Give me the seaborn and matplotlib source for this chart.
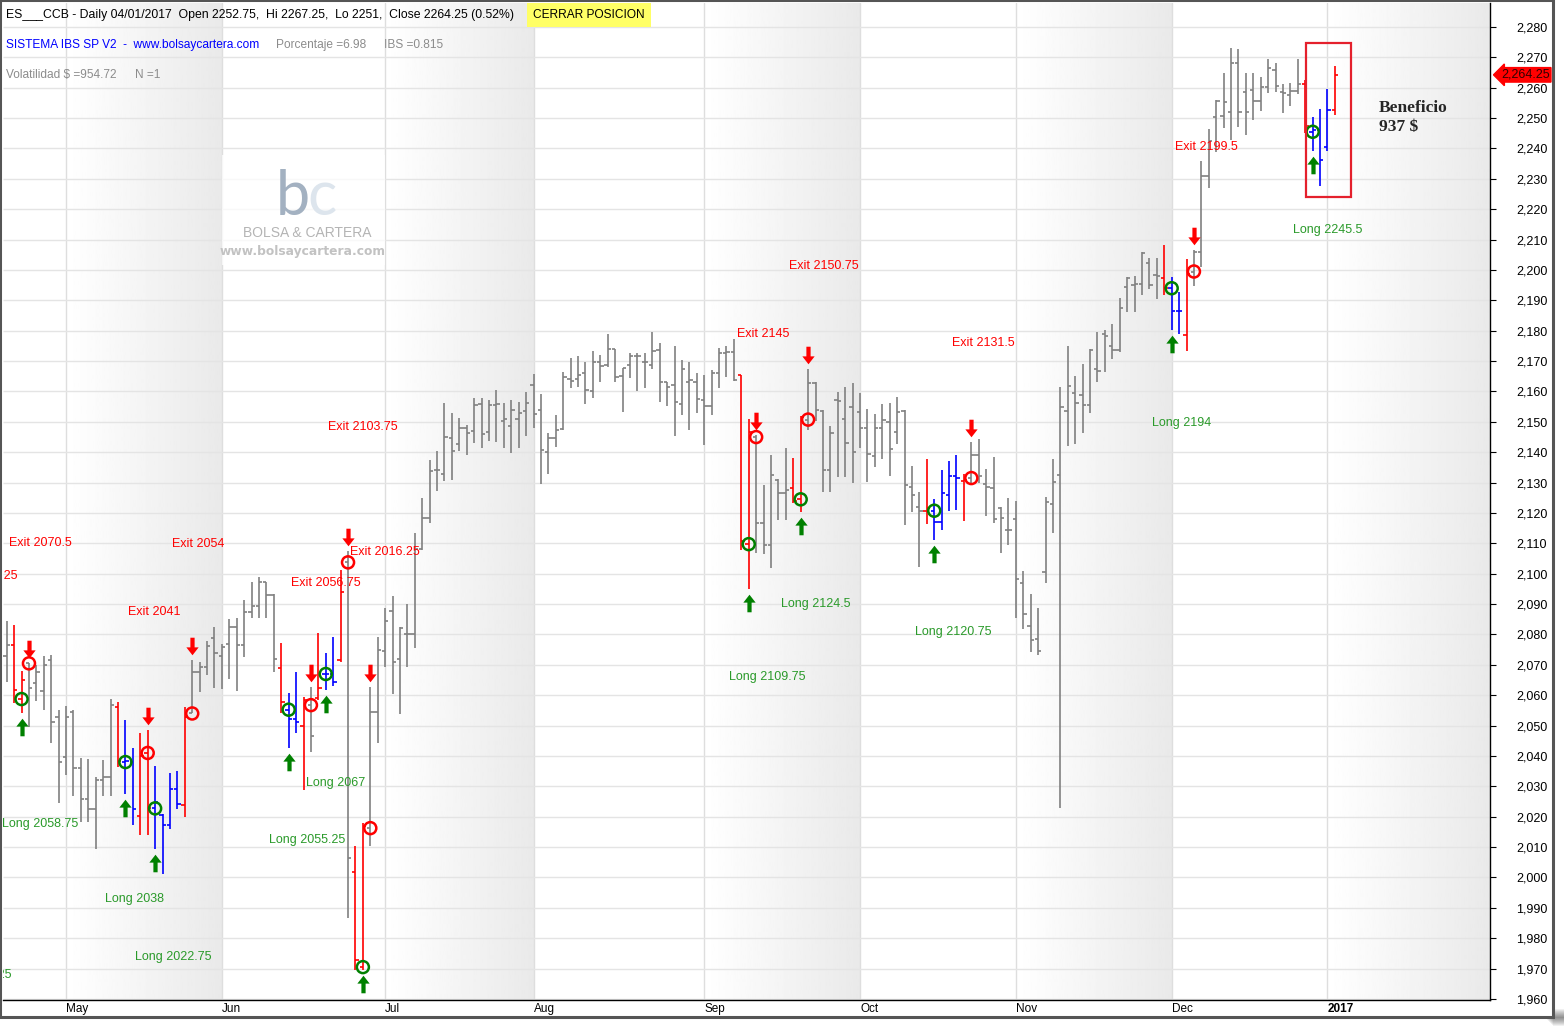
import numpy as np
import pandas as pd
import matplotlib
matplotlib.use("Agg")
import matplotlib.pyplot as plt
import seaborn as sns
from matplotlib.patches import Rectangle
from matplotlib.path import Path

# =========================
# DATOS (ES continuo, diario)
# =========================
opens = [2073, 2076.7, 2058.75, 2070.5, 2064, 2061.4, 2071.6, 2052.7, 2039.6, 2054.6,
         2036.1, 2026, 2022.5, 2032, 2033, 2056.2, 2038, 2038, 2020.2, 2041,
         2022.75, 2020.6, 2017.4, 2029, 2023.8, 2054, 2067.8, 2069.4, 2079, 2072.9,
         2076.8, 2082.6, 2076.5, 2087.5, 2089.4, 2097.2, 2093, 2069.1, 2055.25, 2052.2,
         2050, 2056.75, 2059, 2067, 2067, 2071.5, 2103.75, 2001.9, 1970.5, 2016.25,
         2054.6, 2074.6, 2087.7, 2071.8, 2080, 2080, 2108.2, 2118.5, 2134, 2133,
         2144.6, 2142.6, 2147.9, 2147, 2156, 2146.8, 2155.5, 2150.3, 2148.6, 2151,
         2153.7, 2162.1, 2153.9, 2140.2, 2144.8, 2147.5, 2164, 2164, 2166, 2160.3,
         2169.6, 2168.7, 2174, 2165.2, 2168.7, 2171.7, 2169.6, 2168.7, 2173.8, 2163,
         2162.1, 2155.8, 2163.2, 2163, 2157.2, 2155.2, 2166.2, 2172.8, 2173, 2165.4,
         2109.75, 2145, 2116.8, 2109.5, 2131, 2126.7, 2128.1, 2124.5, 2150.75, 2162.9,
         2153.5, 2134, 2157.2, 2151, 2155, 2153.4, 2148, 2138.8, 2147.9, 2150.1,
         2146.6, 2153.6, 2128.7, 2122.1, 2120.8, 2120.75, 2117.1, 2125.9, 2132.3, 2130.5,
         2131.5, 2139.1, 2129.4, 2128.3, 2121.5, 2114.4, 2117.9, 2096.8, 2082.9, 2078.6,
         2100.5, 2123, 2132.4, 2153.7, 2159.5, 2159, 2155.6, 2167.3, 2178.8, 2175.1,
         2173.7, 2194.5, 2195.1, 2195.5, 2202.3, 2198.2, 2197.5, 2194, 2186.5, 2178.6,
         2199.5, 2206, 2231, 2250.5, 2250.7, 2252, 2268, 2258.7, 2259.3, 2255.6,
         2260.4, 2266, 2258.7, 2257.6, 2259, 2261.2, 2245.5, 2246, 2240.6, 2252.75]
highs = [2084.5, 2083.1, 2068, 2070.5, 2070, 2073, 2073.2, 2055.1, 2056.4, 2055.1,
         2039.4, 2039, 2033.2, 2038.7, 2058.8, 2057.7, 2051.8, 2042.5, 2047.5, 2048.5,
         2036.7, 2020.8, 2034.3, 2035.2, 2056.2, 2071.6, 2071, 2077.9, 2082.6, 2076.8,
         2085, 2085.3, 2091.4, 2097.2, 2099, 2097.4, 2093.2, 2077.1, 2060.6, 2067.5,
         2059.5, 2062.8, 2080.4, 2073.8, 2079.3, 2101.2, 2107.6, 2010.4, 2017.8, 2062.8,
         2079.3, 2088.6, 2092.7, 2082.6, 2089.9, 2113.5, 2124.8, 2137.4, 2140.4, 2156.1,
         2152.8, 2151.2, 2149, 2157.7, 2158, 2157.2, 2160.5, 2156.1, 2157.2, 2156.6,
         2159.9, 2165.8, 2159.2, 2146.2, 2152.3, 2166.5, 2171.1, 2171.7, 2169.7, 2173.3,
         2172, 2178.9, 2174, 2167.6, 2172.6, 2172.6, 2172.8, 2179.5, 2175.9, 2163,
         2175, 2170.4, 2169.8, 2166, 2165.4, 2167, 2174.2, 2175, 2177.2, 2165.4,
         2150.9, 2145.7, 2129.2, 2139.1, 2131.2, 2141.3, 2138.2, 2151.9, 2167.3, 2163.2,
         2153.9, 2148.6, 2159.9, 2161.6, 2162.7, 2159.4, 2154.1, 2152.5, 2155.8, 2156.1,
         2158.1, 2153.9, 2135.5, 2126.8, 2137.7, 2124.6, 2134.2, 2137.2, 2139.1, 2133,
         2143.5, 2144.4, 2134.5, 2138.3, 2122.1, 2125, 2124, 2100.8, 2093.3, 2088.7,
         2125.2, 2137.8, 2161.5, 2175, 2165.1, 2169.2, 2174, 2179.7, 2180.3, 2182.2,
         2190.8, 2197.6, 2198, 2206, 2204.1, 2204.1, 2208.1, 2197.6, 2192.9, 2203.5,
         2206.6, 2235.9, 2246.3, 2256, 2265, 2273, 2272.6, 2264.7, 2264.7, 2263.6,
         2269.4, 2268, 2261.2, 2261.4, 2269.4, 2262.5, 2250.3, 2253, 2259.5, 2267.25]
lows = [2064.5, 2057.5, 2054, 2049.6, 2058.2, 2055, 2044.2, 2024.6, 2033.9, 2026.9,
        2018.4, 2018.4, 2009.3, 2026.9, 2026.9, 2036.3, 2027.4, 2017.4, 2014, 2014,
        2009.4, 2001, 2016.1, 2022.4, 2020, 2054, 2061.2, 2066.7, 2062.3, 2062.1,
        2065.3, 2061.5, 2072.7, 2085.3, 2085.3, 2085.3, 2067.5, 2054, 2042.5, 2047.7,
        2028.8, 2041.2, 2058.4, 2061.7, 2063.2, 2071, 1986.6, 1969.5, 1969.5, 2010.4,
        2044.4, 2069.4, 2060.4, 2053.7, 2069.4, 2075.4, 2107.8, 2116.6, 2127.4, 2130.6,
        2130.9, 2140.5, 2139.1, 2143.2, 2141.5, 2143.8, 2143.5, 2141.5, 2139.8, 2141.5,
        2145.4, 2147.9, 2129.4, 2132.8, 2141.8, 2147.3, 2161.3, 2161.6, 2155.8, 2158,
        2163.2, 2168.2, 2163.2, 2153.4, 2164.3, 2160.1, 2161.3, 2167.3, 2156.6, 2155.3,
        2145.5, 2152.2, 2147.3, 2153, 2142.4, 2152.3, 2161, 2164.7, 2163.6, 2107.8,
        2094.9, 2106.7, 2106.4, 2102, 2117.7, 2117.7, 2123.4, 2120.4, 2147.3, 2150.3,
        2127, 2127, 2131.9, 2131.9, 2130, 2141.3, 2130.3, 2135.3, 2137.7, 2132.2,
        2142.7, 2116, 2120.4, 2102.1, 2116.4, 2111.1, 2114.4, 2120.7, 2121, 2117.5,
        2129.2, 2129.8, 2119.1, 2116.8, 2106.9, 2109.3, 2085.4, 2081.7, 2074.1, 2073.2,
        2097.1, 2113.3, 2022.9, 2142.2, 2142.8, 2146.5, 2152.8, 2163.2, 2166.3, 2170.8,
        2172.9, 2186.1, 2186.1, 2191.8, 2193.9, 2190.4, 2191.7, 2180.3, 2178.9, 2173.4,
        2194.7, 2201.1, 2226.9, 2238.9, 2246.6, 2242.8, 2247.2, 2244.4, 2249.4, 2252.3,
        2258.4, 2258.7, 2251.6, 2254, 2257.8, 2245, 2239.3, 2227.8, 2239.3, 2251]
closes = [2076.7, 2061.7, 2065, 2062.3, 2067.5, 2070, 2051.3, 2037.9, 2052.7, 2036.1,
          2026, 2022.5, 2032, 2033.2, 2056.8, 2038.5, 2038.5, 2022.5, 2040, 2023,
          2025, 2017.4, 2029, 2024.2, 2053, 2067.8, 2069.4, 2076.3, 2074, 2076,
          2082.6, 2076.5, 2087.5, 2089.4, 2097.2, 2093, 2072, 2057.7, 2052.2, 2051.3,
          2058.4, 2046.7, 2062.5, 2067, 2064.5, 2094, 2006.3, 1972.8, 2017, 2054.6,
          2075, 2084.4, 2071, 2082, 2080, 2108.2, 2118.2, 2133.8, 2134, 2145.1,
          2140.5, 2147.9, 2146.4, 2155.5, 2145.9, 2155.5, 2155.8, 2151, 2153.9, 2152.8,
          2156.3, 2152.5, 2140.7, 2144.8, 2147.3, 2164.7, 2163.5, 2165.4, 2160.5, 2169.6,
          2168.4, 2174, 2164.7, 2167.6, 2171.7, 2171.7, 2169.6, 2173.3, 2163, 2161.4,
          2156.5, 2167.3, 2163.8, 2157.5, 2155.2, 2166.2, 2172.8, 2173, 2163.8, 2110.9,
          2146.8, 2116.8, 2109.5, 2132.5, 2126.7, 2127.6, 2124, 2151.5, 2162.9, 2153.9,
          2134, 2146.4, 2157, 2143, 2140.2, 2147.9, 2139.3, 2147.9, 2150.6, 2141,
          2153.4, 2129.2, 2125.9, 2120.8, 2121.8, 2117.1, 2126.5, 2132.3, 2131.4, 2131,
          2139.1, 2132.2, 2128.7, 2117.9, 2118.5, 2114.4, 2098.2, 2086.6, 2078.2, 2074.5,
          2123.6, 2130.2, 2154.9, 2161.7, 2156.2, 2155.6, 2173.7, 2166.7, 2178.4, 2173.7,
          2187.4, 2197.3, 2195.4, 2205.7, 2195.1, 2197.9, 2194, 2186.5, 2186.5, 2198.7,
          2206, 2231, 2242.5, 2255.6, 2255.4, 2268, 2252.1, 2252, 2255.6, 2260.4,
          2266.4, 2260.6, 2258.2, 2259, 2261.1, 2247.5, 2246, 2236.2, 2252.7, 2264.25]

# color de cada barra (resto en gris)
barras_rojas = [1, 2, 15, 18, 19, 24, 37, 40, 42, 45, 47, 48, 99, 100, 106, 107,
                124, 129, 156, 159, 175, 179]
barras_azules = [16, 17, 20, 21, 22, 23, 38, 39, 43, 44, 125, 126, 127, 128,
                 157, 158, 176, 177, 178]

# operaciones
entradas_barra = [2, 16, 20, 38, 43, 48, 100, 107, 125, 157, 176]
entradas_precio = [2058.75, 2038, 2022.75, 2055.25, 2067, 1970.5, 2109.75, 2124.5,
                   2120.75, 2194, 2245.5]
salidas_barra = [3, 19, 25, 41, 46, 49, 101, 108, 130, 160]
salidas_precio = [2070.5, 2041, 2054, 2056.75, 2103.75, 2016.25, 2145, 2150.75,
                  2131.5, 2199.5]

ultimo_precio = 2264.25
festivos = ['2016-05-30', '2016-07-04', '2016-09-05', '2016-11-24', '2016-12-26', '2017-01-02']

# =========================
# ETIQUETAS (texto, posicion en barra/precio, alineacion)
# =========================
etiquetas = [
    ("Exit 2070.5", 0.31, 2110.1, 'left', 'red'),
    ("Exit 2088.25", 1.52, 2099.3, 'right', 'red'),
    ("Exit 2054", 22.28, 2109.8, 'left', 'red'),
    ("Exit 2041", 16.35, 2087.4, 'left', 'red'),
    ("Exit 2056.75", 38.31, 2096.9, 'left', 'red'),
    ("Exit 2016.25", 46.27, 2107.2, 'left', 'red'),
    ("Exit 2103.75", 43.30, 2148.3, 'left', 'red'),
    ("Exit 2145", 98.42, 2178.9, 'left', 'red'),
    ("Exit 2150.75", 105.43, 2201.3, 'left', 'red'),
    ("Exit 2131.5", 127.40, 2176.0, 'left', 'red'),
    ("Exit 2199.5", 157.45, 2240.5, 'left', 'red'),
    ("Long 2058.75", 9.61, 2017.6, 'right', 'green'),
    ("Long 2038", 13.25, 1992.9, 'left', 'green'),
    ("Long 2022.75", 17.29, 1973.8, 'left', 'green'),
    ("Long 2061.25", 0.71, 1967.9, 'right', 'green'),
    ("Long 2067", 40.34, 2031.1, 'left', 'green'),
    ("Long 2055.25", 35.35, 2012.3, 'left', 'green'),
    ("Long 2109.75", 97.34, 2066.0, 'left', 'green'),
    ("Long 2124.5", 104.35, 2090.0, 'left', 'green'),
    ("Long 2120.75", 122.40, 2080.8, 'left', 'green'),
    ("Long 2194", 154.35, 2149.6, 'left', 'green'),
    ("Long 2245.5", 173.35, 2213.2, 'left', 'green'),
]

# =========================
# PREPARACION
# =========================
dias = pd.bdate_range('2016-04-20', '2017-01-04')
dias = dias[~dias.isin(pd.to_datetime(festivos))]
df = pd.DataFrame({'fecha': dias, 'open': opens, 'high': highs, 'low': lows, 'close': closes})
df['x'] = np.arange(len(df))
df['color'] = '#808080'
df.loc[barras_rojas, 'color'] = '#ff0000'
df.loc[barras_azules, 'color'] = '#0000ff'

mes = df['fecha'].dt.to_period('M')
inicio_mes = df.index[mes != mes.shift()].tolist()[1:]
nombres_mes = [('2017' if df['fecha'][i].month == 1 else df['fecha'][i].strftime('%b')) for i in inicio_mes]

W, H = 1564, 1027
def fx(px):
    return px / W
def fy(py):
    return 1 - py / H

sns.set_theme(style='white')
plt.rcParams['font.family'] = ['Liberation Sans', 'DejaVu Sans']

fig = plt.figure(figsize=(W / 100, H / 100), dpi=100)
fig.patch.set_facecolor('white')

# sombra y marco
for k in range(1, 10):
    fig.patches.append(Rectangle((fx(1553 + k - 9), fy(1017 + k)), fx(9) + fx(1553 - 9), fy(0) - fy(9),
                                 transform=fig.transFigure, fc='black', ec='none', alpha=0.06, zorder=-5))
fig.patches.append(Rectangle((fx(0), fy(1017)), fx(1553), fy(0) - fy(1017), transform=fig.transFigure,
                             fc='white', ec='#555555', lw=2.2, zorder=-4))

ax = fig.add_axes([fx(3), fy(1000), fx(1490 - 3), fy(3) - fy(1000)])
xmin, xmax = -0.5, 199.9
ymin, ymax = 1959.67, 2287.9
ax.set_xlim(xmin, xmax)
ax.set_ylim(ymin, ymax)
ax.set_facecolor('white')

# bandas de meses sombreadas (degradado)
limites = [0] + inicio_mes + [xmax]
grad = np.linspace(1.0, 0.915, 128).reshape(1, -1)
for j in range(1, len(limites) - 1, 2):
    ax.imshow(grad, cmap='gray', vmin=0, vmax=1, aspect='auto',
              extent=(limites[j], limites[j + 1], ymin, ymax), zorder=0, interpolation='bilinear')
for m in inicio_mes:
    ax.axvline(m, color='#dedede', lw=1.0, zorder=0.6)
ax.hlines(np.arange(1960, 2281, 10), xmin, xmax, color='#e4e4e4', lw=1.0, zorder=0.6)

# marca de agua
fig.patches.append(Rectangle((fx(222), fy(265)), fx(385 - 222), fy(155) - fy(265), transform=fig.transFigure,
                             fc='white', ec='none', alpha=0.75, zorder=1))
fig.text(fx(293), fy(226), 'b', fontsize=44, color='#a3b1c1', ha='center', va='bottom',
         family=['Lato', 'DejaVu Sans'], zorder=2)
fig.text(fx(322), fy(226), 'c', fontsize=44, color='#dde5ed', ha='center', va='bottom',
         family=['Lato', 'DejaVu Sans'], zorder=2)
fig.text(fx(307), fy(233), 'BOLSA & CARTERA', fontsize=10, color='#b4b4b4', ha='center', va='center', zorder=2)
fig.text(fx(303), fy(252), 'www.bolsaycartera.com', fontsize=8.8, color='#c2c2c2', ha='center', va='center',
         family=['DejaVu Sans'], weight='bold', zorder=2)

# barras OHLC
ax.vlines(df['x'], df['low'], df['high'], colors=df['color'], lw=1.2, zorder=3)
ax.hlines(df['open'], df['x'] - 0.45, df['x'], colors=df['color'], lw=1.2, zorder=3)
ax.hlines(df['close'], df['x'], df['x'] + 0.45, colors=df['color'], lw=1.2, zorder=3)

# flechas
flecha_up = Path([(0, 1), (0.7, 0.1), (0.24, 0.1), (0.24, -1), (-0.24, -1), (-0.24, 0.1),
                  (-0.7, 0.1), (0, 1)], closed=True)
flecha_dn = Path([(x, -y) for x, y in flecha_up.vertices], closed=True)
desplaz = 14 / 3.0375
sns.scatterplot(x=entradas_barra, y=df.loc[entradas_barra, 'low'].values - desplaz, marker=flecha_up,
                s=160, color='#008000', linewidth=0, ax=ax, zorder=4, legend=False)
sns.scatterplot(x=salidas_barra, y=df.loc[salidas_barra, 'high'].values + desplaz, marker=flecha_dn,
                s=160, color='#ff0000', linewidth=0, ax=ax, zorder=4, legend=False)

# circulos de entrada / salida
ax.scatter(entradas_barra, entradas_precio, s=75, facecolors='none', edgecolors='#008000', linewidths=1.8, zorder=5)
ax.scatter(salidas_barra, salidas_precio, s=75, facecolors='none', edgecolors='#ff0000', linewidths=1.8, zorder=5)

# etiquetas
for txt, xi, yi, ha, c in etiquetas:
    ax.text(xi, yi, txt, ha=ha, va='center', fontsize=9, clip_on=True, zorder=6,
            color='#ff0000' if c == 'red' else '#2a9a2a')

# rectangulo de la ultima operacion
ax.add_patch(Rectangle((175.1, 2224.0), 6.1, 50.7, fill=False, ec='#e4202c', lw=1.6, zorder=6))
fig.text(fx(1379), fy(108), 'Beneficio', fontsize=12.5, weight='bold', ha='left', va='center',
         family=['Liberation Serif', 'DejaVu Serif'])
fig.text(fx(1379), fy(127), '937 $', fontsize=12.5, weight='bold', ha='left', va='center',
         family=['Liberation Serif', 'DejaVu Serif'])

# ejes
for s in ['left', 'top']:
    ax.spines[s].set_visible(False)
for s in ['right', 'bottom']:
    ax.spines[s].set_color('black')
    ax.spines[s].set_linewidth(1.0)
ax.yaxis.tick_right()
yt = np.arange(1960, 2281, 10)
ax.set_yticks(yt)
ax.set_yticklabels([f'{v:,.0f}' for v in yt])
ax.tick_params(axis='y', direction='out', length=4, width=0.8, pad=15, labelsize=9, colors='black')
ax.set_xticks(inicio_mes)
ax.set_xticklabels(nombres_mes)
ax.tick_params(axis='x', direction='out', length=8, width=0.8, pad=-6, labelsize=8.5, colors='black')
for lab in ax.get_xticklabels():
    lab.set_ha('left')
    lab.set_va('top')
    if lab.get_text() == '2017':
        lab.set_weight('bold')
ax.grid(False)

# marcador de ultimo precio
ax.annotate(f'{ultimo_precio:,.2f}', xy=(1.0, ultimo_precio), xycoords=('axes fraction', 'data'),
            xytext=(8, 0), textcoords='offset points', ha='left', va='center', fontsize=9,
            color='#300000', annotation_clip=False,
            bbox=dict(boxstyle='larrow,pad=0.1', fc='#ff0000', ec='#ff0000'))

# cabecera
fs = 8.6
fig.text(fx(6), fy(15), 'ES___CCB - Daily 04/01/2017  Open 2252.75,  Hi 2267.25,  Lo 2251,  Close 2264.25 (0.52%)',
         fontsize=8.85, ha='left', va='center', color='black')
fig.text(fx(533), fy(15), 'CERRAR POSICION', fontsize=fs, ha='left', va='center', color='black',
         bbox=dict(fc='#ffff66', ec='none', boxstyle='square,pad=0.5'))
fig.text(fx(6), fy(45), 'SISTEMA IBS SP V2  -  www.bolsaycartera.com', fontsize=fs, ha='left', va='center', color='#0000ff')
fig.text(fx(276), fy(45), 'Porcentaje =6.98', fontsize=fs, ha='left', va='center', color='#8c8c8c')
fig.text(fx(384), fy(45), 'IBS =0.815', fontsize=fs, ha='left', va='center', color='#8c8c8c')
fig.text(fx(6), fy(75), 'Volatilidad $ =954.72', fontsize=fs, ha='left', va='center', color='#8c8c8c')
fig.text(fx(135), fy(75), 'N =1', fontsize=fs, ha='left', va='center', color='#8c8c8c')

fig.savefig('out.png', dpi=100)
